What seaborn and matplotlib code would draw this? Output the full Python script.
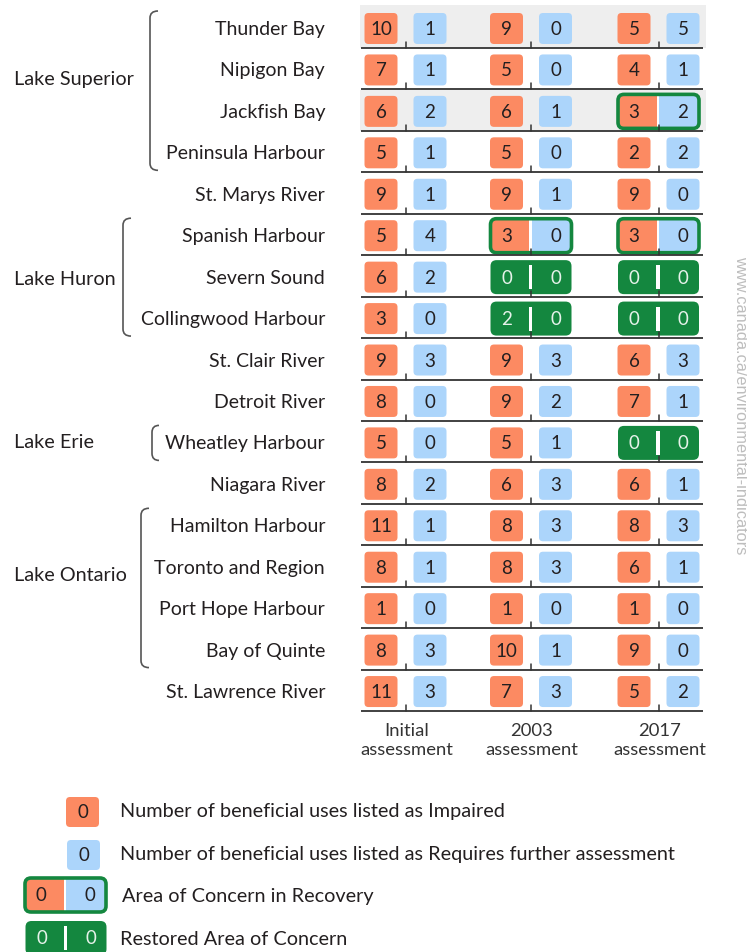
import numpy as np
import matplotlib
matplotlib.use('Agg')
import matplotlib.pyplot as plt
from matplotlib.patches import FancyBboxPatch, Rectangle, PathPatch
from matplotlib.path import Path
import seaborn as sns

# ---- data -----------------------------------------------------------
sites = ['Thunder Bay', 'Nipigon Bay', 'Jackfish Bay', 'Peninsula Harbour',
         'St. Marys River', 'Spanish Harbour', 'Severn Sound',
         'Collingwood Harbour', 'St. Clair River', 'Detroit River',
         'Wheatley Harbour', 'Niagara River', 'Hamilton Harbour',
         'Toronto and Region', 'Port Hope Harbour', 'Bay of Quinte',
         'St. Lawrence River']
assessments = ['Initial', '2003', '2017']

impaired_initial = [10, 7, 6, 5, 9, 5, 6, 3, 9, 8, 5, 8, 11, 8, 1, 8, 11]
further_initial  = [1, 1, 2, 1, 1, 4, 2, 0, 3, 0, 0, 2, 1, 1, 0, 3, 3]
impaired_2003    = [9, 5, 6, 5, 9, 3, 0, 2, 9, 9, 5, 6, 8, 8, 1, 10, 7]
further_2003     = [0, 0, 1, 0, 1, 0, 0, 0, 3, 2, 1, 3, 3, 3, 0, 1, 3]
impaired_2017    = [5, 4, 3, 2, 9, 3, 0, 0, 6, 7, 0, 6, 8, 6, 1, 9, 5]
further_2017     = [5, 1, 2, 2, 0, 0, 0, 0, 3, 1, 0, 1, 3, 1, 0, 0, 2]
# n = listed, r = in recovery, d = restored (delisted)
status_initial = ['n'] * 17
status_2003 = ['n', 'n', 'n', 'n', 'n', 'r', 'd', 'd', 'n', 'n', 'n', 'n',
               'n', 'n', 'n', 'n', 'n']
status_2017 = ['n', 'n', 'r', 'n', 'n', 'r', 'd', 'd', 'n', 'n', 'd', 'n',
               'n', 'n', 'n', 'n', 'n']

lakes = ['Lake Superior', 'Lake Huron', 'Lake Erie', 'Lake Ontario']
lake_rows = [(0, 3), (5, 7), (10, 10), (12, 15)]

legend_labels = ['Number of beneficial uses listed as Impaired',
                 'Number of beneficial uses listed as Requires further assessment',
                 'Area of Concern in Recovery',
                 'Restored Area of Concern']

impaired = [impaired_initial, impaired_2003, impaired_2017]
further = [further_initial, further_2003, further_2017]
status = [status_initial, status_2003, status_2017]

# ---- style ----------------------------------------------------------
sns.set_theme(style='white')
plt.rcParams['font.family'] = ['Lato', 'DejaVu Sans']
ORANGE = '#fc8a62'
BLUE = '#acd5fb'
GREEN = '#14873f'
INK = '#231f20'
NUM_FS = 13.5

fig = plt.figure(figsize=(7.47, 9.53), dpi=100)
ax = fig.add_axes([0, 0, 1, 1])
ax.set_xlim(0, 747)
ax.set_ylim(953, 0)
ax.axis('off')

col_x = [405.5, 531, 658.5]
line_y0, row_h = 49, 41.44
bw, bh, off = 33, 31, 24.5


def box(x, y, color, txt, tc=INK, w=bw, h=bh):
    ax.add_patch(FancyBboxPatch((x - w / 2, y - h / 2), w, h,
                                boxstyle='round,pad=0,rounding_size=4',
                                fc=color, ec='none'))
    ax.text(x, y, str(txt), ha='center', va='center', fontsize=NUM_FS, color=tc)


def recovery(cx, y, a, b):
    w, h = 81, 34
    base = FancyBboxPatch((cx - w / 2, y - h / 2), w, h,
                          boxstyle='round,pad=0,rounding_size=6',
                          fc=BLUE, ec='none')
    ax.add_patch(base)
    left = Rectangle((cx - w / 2, y - h / 2), w / 2 - 2, h, fc=ORANGE, ec='none')
    ax.add_patch(left)
    left.set_clip_path(base)
    ax.add_patch(Rectangle((cx - 2, y - h / 2), 2.5, h, fc='white', ec='none'))
    ax.add_patch(FancyBboxPatch((cx - w / 2, y - h / 2), w, h,
                                boxstyle='round,pad=0,rounding_size=6',
                                fc='none', ec=GREEN, lw=2.6))
    ax.text(cx - off, y, str(a), ha='center', va='center', fontsize=NUM_FS, color=INK)
    ax.text(cx + off, y, str(b), ha='center', va='center', fontsize=NUM_FS, color=INK)


def restored(cx, y, a, b):
    w, h = 81, 34
    ax.add_patch(FancyBboxPatch((cx - w / 2, y - h / 2), w, h,
                                boxstyle='round,pad=0,rounding_size=6',
                                fc=GREEN, ec='none'))
    ax.add_patch(Rectangle((cx - 2.5, y - 12), 3.5, 24, fc='white', ec='none'))
    ax.text(cx - off, y, str(a), ha='center', va='center', fontsize=NUM_FS, color='#e6f2ea')
    ax.text(cx + off, y, str(b), ha='center', va='center', fontsize=NUM_FS, color='#e6f2ea')


# grey highlight rows
for r in [0, 2]:
    top = 6 if r == 0 else line_y0 + (r - 1) * row_h + 1
    ax.add_patch(Rectangle((360, top), 346, line_y0 + r * row_h - top,
                           fc='#eeeeee', ec='none', zorder=0))

for i, name in enumerate(sites):
    ly = line_y0 + i * row_h
    cy = ly - 19.5
    ax.plot([361, 703], [ly, ly], color='#333333', lw=1.3, solid_capstyle='butt')
    ax.text(325, cy, name, ha='right', va='center', fontsize=14, color=INK)
    for j, cx in enumerate(col_x):
        ax.plot([cx, cx], [ly - 6, ly], color='#333333', lw=1.1)
        s = status[j][i]
        if s == 'n':
            box(cx - off, cy, ORANGE, impaired[j][i])
            box(cx + off, cy, BLUE, further[j][i])
        elif s == 'r':
            recovery(cx, cy, impaired[j][i], further[j][i])
        else:
            restored(cx, cy, impaired[j][i], further[j][i])

# lake brackets
lake_label_y = [80, 280, 443, 576]
bracket_x = [(150, 158), (123, 131), (152, 159), (141, 149)]
for lake, (r0, r1), ly, (xl, xr) in zip(lakes, lake_rows, lake_label_y, bracket_x):
    y0 = line_y0 + r0 * row_h - 19.5 - 17.5
    y1 = line_y0 + r1 * row_h - 19.5 + 17.5
    verts = [(xr, y0), (xl, y0), (xl, y0 + 7), (xl, y1 - 7), (xl, y1), (xr, y1)]
    codes = [Path.MOVETO, Path.CURVE3, Path.CURVE3, Path.LINETO, Path.CURVE3, Path.CURVE3]
    ax.add_patch(PathPatch(Path(verts, codes), fc='none', ec='#555555', lw=1.2))
    ax.text(14, ly, lake, ha='left', va='center', fontsize=14.3, color=INK)

# column headers
for cx, lab in zip(col_x, assessments):
    ax.text(cx + 1, 731, lab, ha='center', va='center', fontsize=13.3, color='#333333')
    ax.text(cx + 1, 750, 'assessment', ha='center', va='center', fontsize=13.3, color='#333333')

# legend
box(82.5, 813, ORANGE, 0, w=33, h=30)
box(83.5, 856, BLUE, 0, w=33, h=30)
recovery(65.5, 896, 0, 0)
restored(66, 939, 0, 0)
for yy, lab, xx in zip([812, 855, 897, 940], legend_labels, [120, 120, 122, 120]):
    ax.text(xx, yy, lab, ha='left', va='center', fontsize=14.3, color=INK)

# watermark
ax.text(741, 405, 'www.canada.ca/environmental-indicators', rotation=270,
        ha='center', va='center', fontsize=11.8, color='#bdbdbd',
        family=['Liberation Sans', 'DejaVu Sans'])

fig.savefig('out.png', dpi=100)
